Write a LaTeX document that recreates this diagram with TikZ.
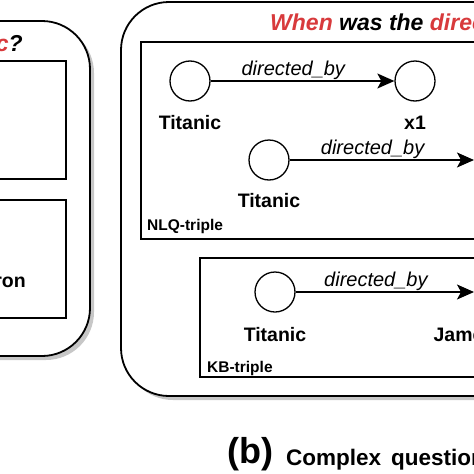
\documentclass[tikz,border=0pt]{standalone}
\usepackage{fontspec}
\setmainfont{Liberation Sans}
\usepackage{tikz}
\usetikzlibrary{positioning}
\usetikzlibrary{arrows.meta}
\usetikzlibrary{shadows}
\definecolor{qred}{HTML}{D83A3C}

\begin{document}
\begin{tikzpicture}[x=1pt, y=-1pt]

        \tikzstyle{panel} = [draw, line width=1.8pt, rounded corners=48pt, fill=white,
            drop shadow={shadow xshift=4pt, shadow yshift=-4pt, fill=black!22, opacity=1}]
        \tikzstyle{frame} = [draw, line width=1.5pt]
        \tikzstyle{entity} = [circle, draw, line width=1.3pt, minimum size=40pt, inner sep=0pt]
        \tikzstyle{entitytext} = [inner sep=0pt, font=\bfseries\fontsize{19.5}{23}\selectfont]
        \tikzstyle{tripletag} = [inner sep=0pt, font=\bfseries\fontsize{15.5}{18}\selectfont]
        \tikzstyle{relation} = [above, pos=0.45, inner sep=1pt, font=\itshape\fontsize{20}{24}\selectfont]
        \tikzstyle{link} = [-{Stealth[length=17pt, width=15pt, inset=4pt]}, line width=1.3pt]
        \tikzstyle{question} = [inner sep=0pt, font=\bfseries\itshape\fontsize{23}{27}\selectfont]

        \useasboundingbox (0,0) rectangle (474,474);
        \clip (0,0) rectangle (474,474);

        % panel (a)
        \path[panel] (-300,21) rectangle (90,356);
        \path[frame] (-200,61) rectangle (66,179);
        \path[frame] (-200,200) rectangle (66,318);
        \node[question, anchor=base east]   (qa)     at (23,51) {\textcolor{qred}{Titanic}?};
        \node[entitytext, anchor=base east] (answer) at (26,287) {James Cameron};

        % panel (b)
        \path[panel] (121,2) rectangle (700,396);
        \node[question, anchor=base west] (qb) at (270,30) {\textcolor{qred}{When} was the \textcolor{qred}{director}};

        \path[frame] (141,42) rectangle (620,239);
        \node[tripletag, anchor=base west] (nlq) at (147,230) {NLQ-triple};

        \node[entity]                       (t1)     at (190,81) {};
        \node[entity]                       (x1)     at (415,81) {};
        \node[entitytext, below=14pt of t1] (t1name) {Titanic};
        \node[entitytext, below=14pt of x1] (x1name) {x1};

        \node[entity]                       (t2)     at (269,160) {};
        \coordinate                         (e2)     at (474,160);
        \node[entitytext, below=13pt of t2] (t2name) {Titanic};

        \path[frame] (200,258) rectangle (620,377);
        \node[tripletag, anchor=base west] (kb) at (207,372) {KB-triple};

        \node[entity]                       (t3)     at (275,292) {};
        \coordinate                         (e3)     at (474,292);
        \node[entitytext, below=15pt of t3] (t3name) {Titanic};
        \node[entitytext, base right=127pt of t3name] (jname) {James Cameron};

        \draw[link] (t1) -- (x1) node[relation] {directed\_by};
        \draw[link] (t2) -- (e2) node[relation] {directed\_by};
        \draw[link] (t3) -- (e3) node[relation] {directed\_by};

        % caption
        \node[inner sep=0pt, anchor=base west, font=\bfseries\fontsize{36}{40}\selectfont] (cap) at (227,463) {(b)};
        \node[inner sep=0pt, anchor=base west, font=\bfseries\fontsize{22.5}{26}\selectfont] (captext) at (286,465) {Complex\hspace{10pt}question};

      \end{tikzpicture}
\end{document}
